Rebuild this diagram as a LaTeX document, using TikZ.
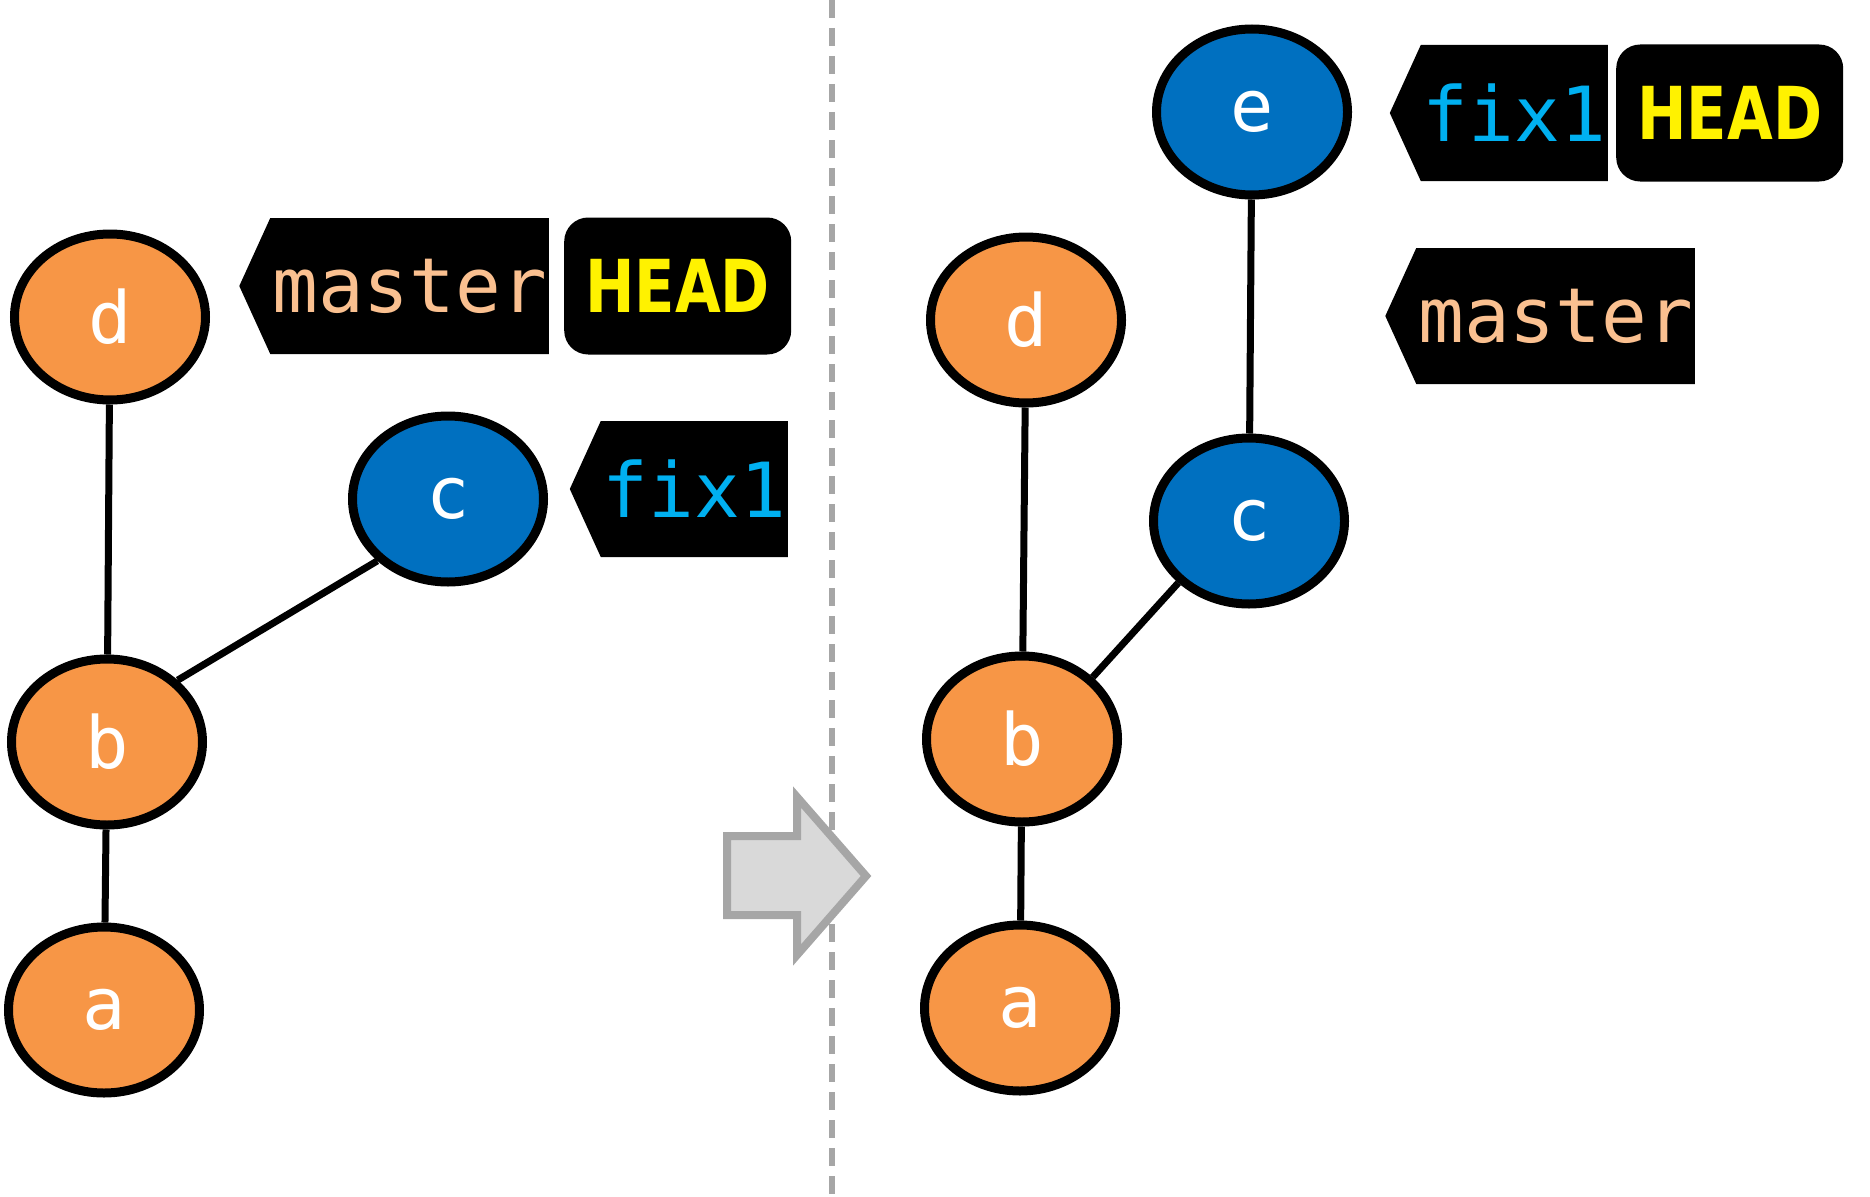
\documentclass[tikz,border=0pt]{standalone}
\usepackage{fontspec}
\setmonofont{DejaVu Sans Mono}
\newfontfamily\headfont[FakeStretch=0.81]{DejaVu Sans}
\usepackage{xcolor}
\usetikzlibrary{shapes.geometric, shapes.symbols, positioning}
\definecolor{corange}{HTML}{F79646}
\definecolor{cblue}{HTML}{0070C0}
\definecolor{tagmaster}{HTML}{FAC090}
\definecolor{tagfix}{HTML}{00B0F0}
\definecolor{divgray}{HTML}{A6A6A6}
\definecolor{arrowgray}{HTML}{D9D9D9}

\begin{document}
\begin{tikzpicture}[x=1pt, y=-1pt]
    \tikzstyle{commit} = [ellipse, draw=black, line width=9pt, minimum width=191pt, minimum height=166pt, text=white, font=\ttfamily\fontsize{72pt}{74pt}\selectfont]
    \tikzstyle{branch} = [signal, signal to=west, signal pointer angle=131, fill=black, inner xsep=2pt, minimum height=136pt, anchor=east, font=\ttfamily\fontsize{76pt}{80pt}\selectfont]
    \tikzstyle{head}   = [rectangle, rounded corners=24pt, fill=black, minimum width=227pt, minimum height=137pt, text=yellow, font=\headfont\bfseries\fontsize{73pt}{76pt}\selectfont]
    \tikzstyle{parent} = [line width=7pt]
    \tikzstyle{divider} = [divgray, line width=6pt, dash pattern=on 18pt off 10pt]
    \tikzstyle{bigarrow} = [draw=divgray, fill=arrowgray, line width=8pt, line join=miter]

    \useasboundingbox (0,0) rectangle (1870,1196);

    % before
    \node (a1) [commit, fill=corange] at (104,1010) {a};
    \node (b1) [commit, fill=corange] at (107,742)  {b};
    \node (c1) [commit, fill=cblue]   at (448,499)  {c};
    \node (d1) [commit, fill=corange] at (110,317)  {d};

    \node (master1) [branch, text=tagmaster] at (549,286) {master};
    \node (head1)   [head, right=15pt of master1] {HEAD};
    \node (fix1)    [branch, text=tagfix] at (788,489) {fix1};

    \draw [parent] (a1) -- (b1);
    \draw [parent] (b1) -- (d1);
    \draw [parent] (b1.north east) -- (c1.south west);

    % after
    \draw [divider] (832,0) -- (832,1196);
    \draw [bigarrow] (727,836) -- (797,836) -- (797,797) -- (866,876) -- (797,955) -- (797,915) -- (727,915) -- cycle;

    \node (a2) [commit, fill=corange] at (1020,1008) {a};
    \node (b2) [commit, fill=corange] at (1022,739)  {b};
    \node (c2) [commit, fill=cblue]   at (1249,521)  {c};
    \node (d2) [commit, fill=corange] at (1026,320)  {d};
    \node (e2) [commit, fill=cblue]   at (1252,112)  {e};

    \node (fix2)    [branch, text=tagfix] at (1608,113) {fix1};
    \node (head2)   [head, right=8pt of fix2] {HEAD};
    \node (master2) [branch, text=tagmaster] at (1695,316) {master};

    \draw [parent] (a2) -- (b2);
    \draw [parent] (b2) -- (d2);
    \draw [parent] (b2.north east) -- (c2.south west);
    \draw [parent] (c2) -- (e2);
\end{tikzpicture}
\end{document}
